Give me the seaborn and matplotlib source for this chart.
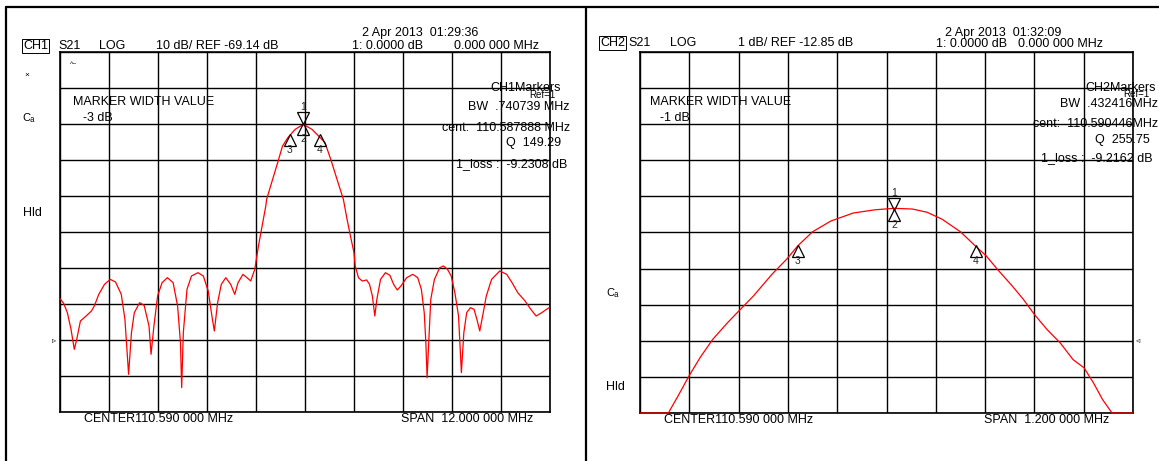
import numpy as np
import seaborn as sns
import matplotlib.pyplot as plt
from matplotlib.lines import Line2D
from matplotlib.transforms import offset_copy

# ---- CH1: wide sweep, 10 dB/div ----
ch1_center = 110.59
ch1_span = 12.0
ch1_ref = -69.14
ch1_div = 10.0
ch1_offset = [-6.00, -5.91, -5.82, -5.73, -5.65, -5.59, -5.50, -5.36, -5.23, -5.16,
              -5.05, -4.91, -4.77, -4.64, -4.50, -4.41, -4.32, -4.25, -4.18, -4.05,
              -3.94, -3.82, -3.77, -3.70, -3.61, -3.50, -3.37, -3.23, -3.12, -3.05,
              -3.02, -2.98, -2.89, -2.78, -2.62, -2.49, -2.37, -2.28, -2.22, -2.14,
              -2.05, -1.94, -1.82, -1.72, -1.64, -1.52, -1.42, -1.33, -1.23, -1.14,
              -1.05, -0.96, -0.94, -0.67, -0.55, -0.42, -0.24, -0.04, 0.17, 0.35,
              0.49, 0.63, 0.81, 0.94, 1.03, 1.13, 1.20, 1.23, 1.31, 1.40,
              1.51, 1.58, 1.65, 1.71, 1.76, 1.85, 1.97, 2.08, 2.17, 2.26,
              2.35, 2.49, 2.64, 2.76, 2.85, 2.92, 2.96, 2.99, 3.03, 3.08,
              3.17, 3.30, 3.39, 3.49, 3.58, 3.67, 3.76, 3.83, 3.89, 3.96,
              4.05, 4.14, 4.21, 4.28, 4.35, 4.44, 4.57, 4.77, 4.94, 5.07,
              5.21, 5.39, 5.53, 5.66, 5.80, 5.89, 5.98]
ch1_db = [-57.66, -58.95, -61.55, -66.18, -71.73, -68.95, -63.86, -62.47, -61.08, -59.70,
          -56.45, -53.68, -52.29, -53.03, -56.45, -63.40, -78.68, -67.10, -61.55, -58.77,
          -59.51, -65.25, -73.12, -65.25, -56.92, -53.21, -51.83, -53.21, -59.70, -69.88,
          -82.38, -67.10, -55.07, -51.36, -50.44, -51.36, -55.53, -62.47, -66.64, -58.77,
          -53.68, -51.83, -53.68, -56.45, -53.21, -50.90, -51.83, -52.75, -49.51, -43.03,
          -37.47, -31.92, -30.07, -19.88, -15.25, -12.94, -10.62, -9.23, -10.62, -12.66,
          -14.33, -18.95, -25.44, -30.07, -35.62, -41.18, -44.88, -48.58, -51.83, -52.75,
          -52.47, -53.68, -56.92, -62.47, -57.84, -52.29, -50.44, -51.18, -53.68, -55.25,
          -54.14, -51.83, -50.90, -51.83, -55.07, -61.55, -69.88, -79.60, -69.88, -57.84,
          -52.29, -49.05, -48.58, -49.51, -51.36, -55.99, -62.47, -78.21, -67.10, -61.55,
          -60.16, -60.62, -63.40, -66.64, -62.47, -56.92, -52.29, -49.97, -50.90, -53.21,
          -55.99, -58.31, -60.62, -62.47, -61.55, -60.81, -60.16]
ch1_cent = 110.587888
ch1_bw = 0.740739
ch1_peak = -9.2308
ch1_width = -3

# ---- CH2: narrow sweep, 1 dB/div ----
ch2_center = 110.59
ch2_span = 1.2
ch2_ref = -12.85
ch2_div = 1.0
ch2_offset = [-0.600, -0.531, -0.508, -0.481, -0.454, -0.423, -0.387, -0.360, -0.324, -0.279,
              -0.243, -0.216, -0.180, -0.135, -0.081, -0.027, 0.018, 0.063, 0.099, 0.135,
              0.180, 0.216, 0.243, 0.270, 0.306, 0.333, 0.360, 0.391, 0.423, 0.454,
              0.481, 0.504, 0.526, 0.549, 0.600]
ch2_db = [-14.85, -14.85, -14.39, -13.83, -13.32, -12.81, -12.35, -12.03, -11.61, -11.01,
          -10.59, -10.22, -9.83, -9.53, -9.31, -9.22, -9.18, -9.20, -9.29, -9.48,
          -9.83, -10.22, -10.50, -10.87, -11.33, -11.70, -12.12, -12.54, -12.91, -13.37,
          -13.60, -14.02, -14.48, -14.85, -14.85]
ch2_cent = 110.590446
ch2_bw = 0.432416
ch2_peak = -9.2162
ch2_width = -1

W, H = 1159, 461

sns.set_style("white")
plt.rcParams['font.family'] = ['Liberation Sans', 'DejaVu Sans']

fig = plt.figure(figsize=(W / 100, H / 100), dpi=100)


def px(x, y):
    return x / W, 1 - y / H


def ftext(x, y, s, size=9, ha='left', **kw):
    fx, fy = px(x, y)
    fig.text(fx, fy, s, ha=ha, va='center', fontsize=size, color='black', **kw)


# table-like frame lines
fig.add_artist(Line2D([6 / W, 6 / W], [0, 1 - 7 / H], color='black', lw=1.6))
fig.add_artist(Line2D([586 / W, 586 / W], [0, 1 - 7 / H], color='black', lw=1.6))
fig.add_artist(Line2D([6 / W, 1], [1 - 7 / H, 1 - 7 / H], color='black', lw=1.6))


def analyzer(ax, center, span, ref, div, offset, db, cent, bw, peak, width):
    xmin, xmax = center - span / 2, center + span / 2
    ymin, ymax = ref - 2 * div, ref + 8 * div
    freq = [center + o for o in offset]
    sns.lineplot(x=freq, y=db, ax=ax, color='#ff0000', lw=0.9,
                 estimator=None, sort=False, clip_on=False, zorder=5)
    ax.set_xlim(xmin, xmax)
    ax.set_ylim(ymin, ymax)
    ax.set_xticks(np.linspace(xmin, xmax, 11))
    ax.set_yticks(np.linspace(ymin, ymax, 11))
    ax.tick_params(length=0, labelbottom=False, labelleft=False)
    ax.grid(True, color='black', lw=1.0)
    for s in ax.spines.values():
        s.set_color('black')
        s.set_linewidth(1.2)

    # markers: 1 (active, pointing down) and 2 on the peak, 3/4 at the width points
    fpk = freq[int(np.argmax(db))]
    up = offset_copy(ax.transData, fig=fig, y=-5, units='dots')
    dn = offset_copy(ax.transData, fig=fig, y=6, units='dots')
    ax.plot([fpk], [peak], marker='v', ms=8, mfc='none', mec='black', mew=0.9,
            transform=dn, clip_on=False, zorder=6)
    ax.annotate('1', (fpk, peak), xytext=(0, 17), textcoords='offset pixels',
                ha='center', va='center', fontsize=7.5, zorder=6)
    mk_x = [fpk, cent - bw / 2, cent + bw / 2]
    mk_y = [peak, peak + width, peak + width]
    for lab, mx, my in zip(['2', '3', '4'], mk_x, mk_y):
        ax.plot([mx], [my], marker='^', ms=8, mfc='none', mec='black', mew=0.9,
                transform=up, clip_on=False, zorder=6)
        ax.annotate(lab, (mx, my), xytext=(0, -15), textcoords='offset pixels',
                    ha='center', va='center', fontsize=7.5, zorder=6)


ax1 = fig.add_axes([60 / W, 1 - 412 / H, 490 / W, 360 / H])
analyzer(ax1, ch1_center, ch1_span, ch1_ref, ch1_div, ch1_offset, ch1_db,
         ch1_cent, ch1_bw, ch1_peak, ch1_width)
ax2 = fig.add_axes([640 / W, 1 - 413 / H, 493 / W, 361 / H])
analyzer(ax2, ch2_center, ch2_span, ch2_ref, ch2_div, ch2_offset, ch2_db,
         ch2_cent, ch2_bw, ch2_peak, ch2_width)

# ---- CH1 annotations ----
ftext(23, 46, 'CH1', bbox=dict(boxstyle='square,pad=0.05', fc='none', ec='black', lw=0.7))
ftext(58, 46, 'S21')
ftext(99, 46, 'LOG')
ftext(156, 46, '10 dB/ REF -69.14 dB')
ftext(362, 33, '2 Apr 2013  01:29:36')
ftext(352, 46, '1: 0.0000 dB')
ftext(454, 46, '0.000 000 MHz')
ftext(70, 64, '^~', size=5)
ftext(24, 75, '×', size=6)
ftext(22, 118, 'Cₐ', size=8)
ftext(73, 102, 'MARKER WIDTH VALUE')
ftext(83, 118, '-3 dB')
ftext(561, 88, 'CH1Markers', ha='right')
ftext(556, 95, 'Ref=1', ha='right', size=7)
ftext(570, 107, 'BW  .740739 MHz', ha='right')
ftext(570, 128, 'cent:  110.587888 MHz', ha='right')
ftext(561, 143, 'Q  149.29', ha='right')
ftext(567, 164, '1_loss :  -9.2308 dB', ha='right')
ftext(23, 213, 'Hld')
ftext(84, 419, 'CENTER110.590 000 MHz')
ftext(401, 419, 'SPAN  12.000 000 MHz')
ftext(56, 341, '▹', size=6, ha='right')

# ---- CH2 annotations ----
ftext(600, 43, 'CH2', bbox=dict(boxstyle='square,pad=0.05', fc='none', ec='black', lw=0.7))
ftext(628, 43, 'S21')
ftext(670, 43, 'LOG')
ftext(738, 43, '1 dB/ REF -12.85 dB')
ftext(945, 33, '2 Apr 2013  01:32:09')
ftext(936, 44, '1: 0.0000 dB')
ftext(1018, 44, '0.000 000 MHz')
ftext(650, 102, 'MARKER WIDTH VALUE')
ftext(660, 118, '-1 dB')
ftext(1156, 88, 'CH2Markers', ha='right')
ftext(1150, 94, 'Ref=1', ha='right', size=7)
ftext(1158, 104, 'BW  .432416MHz', ha='right')
ftext(1158, 124, 'cent:  110.590446MHz', ha='right')
ftext(1150, 140, 'Q  255.75', ha='right')
ftext(1153, 158, '1_loss :  -9.2162 dB', ha='right')
ftext(606, 293, 'Cₐ', size=8)
ftext(606, 387, 'Hld')
ftext(664, 420, 'CENTER110.590 000 MHz')
ftext(984, 420, 'SPAN  1.200 000 MHz')
ftext(1136, 341, '◃', size=6)

fig.savefig('out.png', dpi=100)
